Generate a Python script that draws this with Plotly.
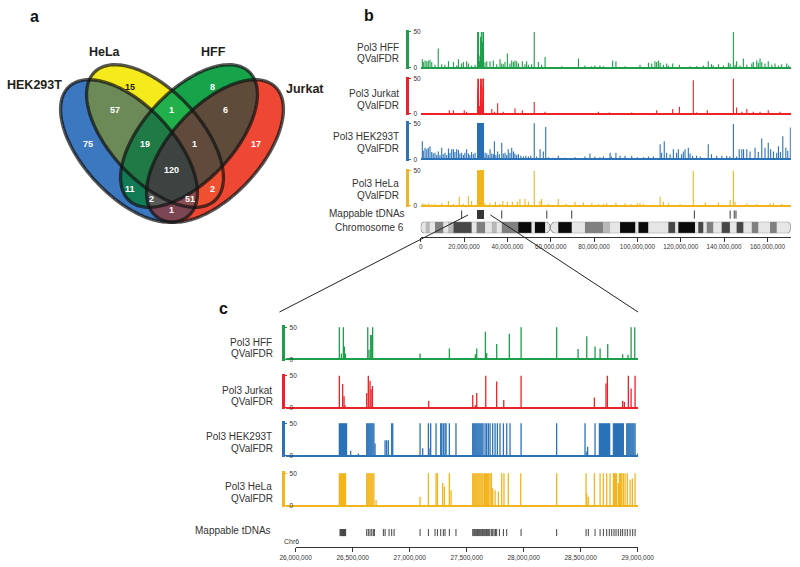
import numpy as np
import plotly.graph_objects as go

W, H = 800, 567
FONT = "Liberation Sans, Arial, sans-serif"

# ----------------------------- DATA -----------------------------
# Venn diagram (bit mask: 1=HEK293T, 2=HeLa, 4=HFF, 8=Jurkat)
venn_sets = ["HEK293T", "HeLa", "HFF", "Jurkat"]
venn_masks = [2, 4, 3, 6, 12, 1, 7, 14, 8, 15, 5, 10, 13, 11, 9]
venn_counts = [15, 8, 57, 1, 6, 75, 19, 1, 17, 120, 11, 2, 2, 51, 1]

# Chromosome 6 ideogram (Mb)
chr6_length_mb = 170.8
centromere_mb = 59.8
band_start_mb = [2.3, 6.6, 12.7, 15.1, 25.8, 32.8, 37.4, 45.0, 52.7, 63.5, 75.8, 84.3,
                 92.0, 100.5, 114.3, 118.9, 128.1, 132.0, 138.9, 145.8, 152.8, 161.2]
band_end_mb = [4.2, 10.4, 15.1, 23.5, 29.7, 35.1, 45.0, 51.1, 57.4, 69.7, 84.3, 87.4,
               99.0, 105.0, 117.4, 126.6, 130.4, 135.0, 142.7, 148.9, 155.8, 164.3]
band_stain = ["gpos25", "gpos50", "gpos25", "gpos75", "gpos50", "gpos25", "gpos50", "gpos100",
              "gpos100", "gpos100", "gpos50", "gpos25", "gpos100", "gpos100", "gpos75", "gpos100",
              "gpos75", "gpos50", "gpos75", "gpos75", "gpos50", "gpos50"]

# Panel b: whole chromosome signal outside the zoomed window (Mb, QValFDR capped at 50)
hff_b_pos = [0.75, 1.2, 2.0, 2.8, 3.5, 4.3, 5.1, 6.6, 8.1, 9.7,
             11.2, 12.8, 15.1, 16.6, 17.4, 18.9, 19.7, 21.2, 22.0, 23.5,
             25.1, 29.7, 30.5, 32.0, 33.5, 35.1, 36.6, 37.4, 38.1, 38.9,
             40.0, 41.2, 42.0, 42.8, 43.5, 44.3, 45.1, 46.9, 48.1, 48.9,
             49.7, 51.2, 52.4, 54.3, 55.8, 57.4, 65.1, 72.8, 75.8, 78.9,
             80.4, 82.7, 84.3, 88.6, 90.1, 94.3, 101.2, 105.1, 106.6, 108.1,
             108.9, 109.7, 110.5, 112.0, 113.5, 114.3, 116.3, 119.4, 124.3, 127.3,
             130.4, 132.7, 134.2, 135.0, 137.4, 139.7, 142.0, 142.8, 144.3, 145.1,
             145.8, 147.4, 148.9, 150.5, 152.8, 153.5, 155.1, 155.8, 156.6, 157.4,
             158.9, 160.4, 162.0, 163.5, 165.1, 166.6, 168.9, 169.8]
hff_b_val = [12, 8, 10, 9, 10, 11, 8, 4, 27, 5,
             4, 9, 8, 3, 12, 6, 8, 9, 6, 3,
             4, 8, 9, 9, 10, 5, 12, 6, 5, 8,
             20, 6, 10, 8, 10, 9, 6, 9, 5, 9,
             4, 5, 50, 8, 4, 15, 2, 13, 3, 2,
             3, 3, 2, 10, 9, 2, 4, 7, 6, 9,
             8, 10, 7, 4, 6, 3, 6, 4, 2, 2,
             3, 9, 5, 3, 5, 3, 7, 6, 50, 4,
             9, 3, 13, 4, 6, 8, 10, 7, 13, 8,
             6, 9, 4, 6, 3, 5, 6, 3]

jurkat_b_pos = [13.2, 15.1, 20.1, 21.2, 32.8, 34.0, 35.5, 38.1, 43.5, 46.9,
                52.4, 57.4, 82.0, 87.1, 97.4, 108.9, 116.3, 119.4, 125.8, 127.3,
                132.3, 144.3, 145.8, 148.2, 150.5, 153.5, 156.6, 160.4, 165.8]
jurkat_b_val = [5, 5, 5, 3, 7, 3, 15, 3, 8, 5,
                17, 3, 3, 2, 2, 5, 7, 10, 48, 2,
                5, 50, 9, 3, 7, 3, 3, 5, 3]

hek_b_pos = [0.75, 1.2, 2.0, 2.8, 3.5, 4.3, 5.1, 5.8, 6.6, 7.4,
             8.1, 8.9, 9.7, 10.4, 11.2, 12.0, 12.8, 13.5, 14.3, 15.1,
             15.8, 16.6, 17.4, 18.1, 18.9, 19.7, 20.4, 21.2, 22.0, 22.7,
             23.5, 24.3, 25.1, 29.7, 30.5, 31.2, 32.0, 32.8, 33.5, 34.0,
             34.7, 35.5, 36.3, 37.4, 38.1, 38.9, 39.7, 40.4, 41.2, 42.0,
             42.8, 43.5, 44.3, 45.1, 46.2, 47.4, 48.5, 49.7, 50.8, 52.4,
             53.5, 55.1, 56.6, 57.7, 58.9, 61.0, 63.5, 66.6, 71.2, 75.8,
             78.1, 80.4, 82.7, 84.3, 87.4, 88.0, 90.1, 92.0, 94.3, 97.4,
             100.0, 102.8, 105.1, 107.4, 110.5, 111.2, 112.4, 113.5, 115.1, 116.6,
             118.1, 118.9, 120.4, 121.2, 122.0, 123.5, 124.3, 125.5, 127.3, 129.0,
             132.7, 134.2, 136.6, 139.0, 141.2, 142.7, 144.3, 145.8, 147.0, 148.2,
             149.0, 150.5, 152.0, 154.3, 155.8, 157.4, 158.9, 160.4, 161.5, 162.8,
             164.3, 165.1, 166.0, 167.1, 168.5, 169.4, 170.6]
hek_b_val = [25, 12, 16, 14, 16, 18, 10, 8, 9, 6,
             11, 6, 16, 7, 9, 6, 15, 9, 14, 14,
             10, 14, 13, 8, 9, 6, 9, 14, 8, 6,
             10, 7, 9, 9, 8, 6, 14, 8, 7, 25,
             6, 11, 7, 23, 8, 9, 6, 14, 9, 16,
             11, 8, 6, 7, 5, 4, 5, 4, 5, 50,
             4, 14, 11, 45, 3, 2, 5, 2, 3, 4,
             8, 4, 3, 4, 9, 4, 9, 5, 5, 5,
             3, 3, 4, 4, 21, 9, 25, 9, 7, 14,
             9, 14, 7, 11, 14, 16, 8, 5, 5, 4,
             21, 7, 5, 5, 5, 4, 49, 4, 14, 14,
             14, 14, 11, 16, 10, 29, 16, 23, 14, 11,
             9, 18, 10, 32, 16, 12, 44]

hela_b_pos = [1.0, 2.0, 3.5, 5.1, 6.6, 9.7, 12.8, 15.1, 17.8, 19.7,
              22.0, 23.5, 29.7, 32.0, 34.5, 36.6, 37.9, 40.0, 42.3, 44.6,
              45.8, 48.1, 49.7, 52.4, 55.1, 55.8, 58.9, 63.5, 67.0, 71.2,
              75.1, 79.0, 82.0, 84.3, 85.8, 90.1, 94.3, 97.0, 100.0, 101.2,
              102.8, 110.5, 112.0, 114.3, 119.7, 125.8, 131.3, 137.4, 142.8, 144.3,
              145.1, 150.5, 155.1, 161.2, 162.8, 166.6]
hela_b_val = [4, 3, 4, 2, 3, 4, 7, 3, 13, 3,
              14, 7, 4, 4, 6, 3, 7, 6, 6, 6,
              10, 10, 6, 50, 7, 10, 3, 10, 3, 6,
              5, 4, 3, 3, 4, 5, 4, 3, 4, 4,
              3, 13, 6, 4, 3, 50, 5, 5, 9, 50,
              6, 4, 3, 4, 4, 3]

tdna_b_pos = [18.9, 37.4, 58.2, 69.7, 126.3, 142.8, 144.7, 145.5]

# Panel c: zoom 26-29 Mb (Mb, QValFDR capped at 50)
hff_c_pos = [26.383, 26.401, 26.418, 26.427, 26.436, 26.632, 26.643, 26.658, 26.667, 26.675,
             27.091, 27.348, 27.576, 27.588, 27.664, 27.675, 27.763, 27.874, 27.977, 28.289,
             28.333, 28.477, 28.553, 28.626, 28.670, 28.737, 28.868, 28.915, 28.942, 28.974]
hff_c_val = [50, 9, 50, 20, 9, 50, 15, 38, 38, 50,
             9, 17, 8, 17, 43, 10, 24, 40, 50, 50,
             2, 16, 36, 20, 17, 24, 8, 7, 50, 50]

jurkat_c_pos = [26.383, 26.412, 26.424, 26.433, 26.623, 26.637, 26.652, 26.661, 26.673, 27.167,
                27.553, 27.576, 27.588, 27.667, 27.763, 27.825, 27.977, 28.620, 28.722, 28.734,
                28.868, 28.883, 28.918, 28.942, 28.977]
jurkat_c_val = [50, 37, 18, 4, 23, 50, 42, 29, 34, 11,
                20, 4, 23, 50, 41, 12, 50, 16, 38, 50,
                11, 9, 50, 30, 50]

hek_c_pos = [26.383, 26.392, 26.401, 26.410, 26.419, 26.428, 26.437, 26.446, 26.482, 26.550,
             26.623, 26.632, 26.641, 26.650, 26.659, 26.668, 26.677, 26.686, 26.696, 26.784,
             26.798, 26.813, 26.842, 26.851, 27.091, 27.114, 27.164, 27.178, 27.184, 27.231,
             27.272, 27.281, 27.295, 27.310, 27.319, 27.348, 27.406, 27.553, 27.562, 27.571,
             27.580, 27.589, 27.598, 27.607, 27.616, 27.625, 27.634, 27.643, 27.661, 27.675,
             27.690, 27.705, 27.728, 27.749, 27.769, 27.792, 27.822, 27.851, 27.880, 27.977,
             28.289, 28.538, 28.553, 28.561, 28.626, 28.664, 28.673, 28.682, 28.691, 28.700,
             28.709, 28.718, 28.727, 28.736, 28.745, 28.754, 28.787, 28.796, 28.805, 28.814,
             28.823, 28.832, 28.841, 28.850, 28.859, 28.868, 28.874, 28.904, 28.913, 28.922,
             28.931, 28.940, 28.949, 28.958, 28.967, 28.977, 29.000]
hek_c_val = [50, 50, 50, 50, 50, 50, 50, 50, 8, 4,
             50, 50, 50, 50, 50, 50, 50, 50, 19, 24,
             24, 24, 50, 50, 50, 12, 50, 12, 50, 50,
             50, 50, 50, 50, 50, 50, 50, 50, 50, 50,
             50, 50, 50, 50, 50, 50, 50, 50, 50, 50,
             50, 50, 50, 50, 50, 50, 50, 50, 50, 50,
             50, 50, 7, 14, 50, 50, 50, 50, 50, 50,
             50, 50, 50, 50, 50, 50, 50, 50, 50, 50,
             50, 50, 50, 50, 50, 50, 50, 50, 50, 50,
             50, 50, 50, 50, 50, 50, 4]

hela_c_pos = [26.383, 26.392, 26.401, 26.410, 26.419, 26.428, 26.437,
              26.623, 26.632, 26.641, 26.650, 26.659, 26.668, 26.677, 26.686, 26.705,
              27.091, 27.164, 27.231, 27.243, 27.289, 27.304, 27.348, 27.363,
              27.553, 27.562, 27.571, 27.580, 27.589, 27.598, 27.607, 27.616, 27.625, 27.634, 27.643,
              27.655, 27.664, 27.675, 27.684, 27.693, 27.705, 27.716, 27.728, 27.749, 27.778,
              27.807, 27.827, 27.865, 27.974, 28.289,
              28.547, 28.553, 28.567, 28.620, 28.670, 28.699, 28.728, 28.757,
              28.787, 28.796, 28.805, 28.814, 28.830, 28.840, 28.850, 28.860, 28.874, 28.889,
              28.909, 28.933, 28.953, 28.977]
hela_c_val = [50, 50, 50, 50, 50, 50, 50,
              50, 50, 50, 50, 50, 50, 50, 50, 9,
              14, 50, 50, 50, 35, 30, 50, 24,
              50, 50, 50, 50, 50, 50, 50, 50, 50, 50, 50,
              50, 50, 50, 50, 50, 50, 50, 27, 24, 22,
              50, 50, 50, 50, 50,
              50, 19, 14, 50, 50, 50, 50, 50,
              50, 50, 50, 50, 35, 50, 50, 50, 50, 50,
              50, 40, 42, 50]

tdna_c_pos = [26.389, 26.394, 26.399, 26.404, 26.409, 26.414, 26.419, 26.424, 26.429, 26.433, 26.438,
              26.623, 26.637, 26.652, 26.667, 26.681, 26.690, 26.769, 26.784, 26.819, 26.842, 26.863,
              27.091, 27.164, 27.222, 27.243, 27.272, 27.295, 27.310, 27.348, 27.406,
              27.553, 27.562, 27.570, 27.579, 27.588, 27.596, 27.605, 27.614, 27.623, 27.632,
              27.640, 27.649, 27.658, 27.667, 27.675, 27.684, 27.693, 27.702, 27.716, 27.728,
              27.740, 27.752, 27.763, 27.787, 27.822, 27.851, 27.977, 28.289,
              28.547, 28.567, 28.626, 28.670, 28.699, 28.728, 28.751, 28.772, 28.792, 28.810,
              28.830, 28.851, 28.868, 28.889, 28.909, 28.933, 28.956, 28.977]

b_tick_vals = [0, 20000000, 40000000, 60000000, 80000000, 100000000, 120000000, 140000000, 160000000]
c_tick_vals = [26000000, 26500000, 27000000, 27500000, 28000000, 28500000, 29000000]

# ----------------------------- STYLE -----------------------------
GREEN, RED, BLUE, YELLOW = "#1E9E4A", "#EC2227", "#2B72B8", "#F2B51E"
stain_color = {"gpos25": "#b8b8b8", "gpos50": "#808080", "gpos75": "#474747", "gpos100": "#0a0a0a"}

# Venn ellipses in pixel space: (cx, cy, a, b, angle deg)
ellipses = [(129, 151, 88, 45, 47), (155, 136, 88, 45, 47),
            (189, 136, 88, 45, -47), (215, 151, 88, 45, -47)]
region_rgb = {1: (59, 120, 192), 2: (245, 234, 28), 4: (22, 163, 74), 8: (238, 72, 52),
              3: (108, 138, 87), 6: (34, 176, 74), 12: (95, 75, 58), 7: (31, 122, 69),
              14: (95, 74, 59), 15: (61, 67, 64), 5: (18, 122, 85), 10: (239, 80, 48),
              13: (90, 90, 90), 11: (142, 77, 79), 9: (125, 70, 84)}
venn_label_xy = {2: (130, 87), 4: (212, 87), 3: (115, 110), 6: (171, 110), 12: (226, 110),
                 1: (88, 144.5), 7: (145, 144.5), 14: (194.5, 144.5), 8: (256, 144.5),
                 15: (171, 170), 5: (130, 189), 10: (212, 189), 13: (151, 199),
                 11: (190, 199), 9: (171, 210)}
venn_set_xy = [(34, 85), (105, 52), (213, 52), (305, 89)]


def px(x):
    return x / W


def py(y):
    return 1 - y / H


fig = go.Figure()
annotations = []
shapes = []


def ann(text, x, y, size=10.0, xanchor="center", color="#333333", bold=False):
    annotations.append(dict(text=("<b>%s</b>" % text) if bold else text, x=px(x), y=py(y),
                            xref="paper", yref="paper", xanchor=xanchor, yanchor="middle",
                            showarrow=False, font=dict(size=size, color=color, family=FONT)))


def two_line_label(name, xr, y_mid):
    ann(name, xr - 1.0, y_mid - 5.6, xanchor="right")
    ann("QValFDR", xr, y_mid + 5.6, xanchor="right")


# ----------------------------- VENN -----------------------------
X0, Y0, IW, IH = 40, 55, 265, 185
gx = X0 + 0.5 + np.arange(IW)
gy = Y0 + 0.5 + np.arange(IH)
XX, YY = np.meshgrid(gx, gy)
mask = np.zeros(XX.shape, dtype=int)
for bit, (cx, cy, a, b, th) in zip([1, 2, 4, 8], ellipses):
    t = np.radians(th)
    dx, dy = XX - cx, YY - cy
    u = dx * np.cos(t) + dy * np.sin(t)
    v = -dx * np.sin(t) + dy * np.cos(t)
    mask |= np.where((u / a) ** 2 + (v / b) ** 2 <= 1, bit, 0)
img = np.zeros((IH, IW, 4))
img[..., :3] = 255
for m, rgb in region_rgb.items():
    sel = mask == m
    img[sel, 0], img[sel, 1], img[sel, 2] = rgb
    img[sel, 3] = 1
fig.add_trace(go.Image(z=img.tolist(), colormodel="rgba", x0=X0 + 0.5, y0=Y0 + 0.5, dx=1, dy=1,
                       xaxis="x", yaxis="y", hoverinfo="skip"))


def ellipse_path(cx, cy, a, b, th, n=140):
    t = np.radians(th)
    pts = []
    for k in range(n):
        s = 2 * np.pi * k / n
        u, v = a * np.cos(s), b * np.sin(s)
        pts.append("%.2f,%.2f" % (cx + u * np.cos(t) - v * np.sin(t), cy + u * np.sin(t) + v * np.cos(t)))
    return "M" + " L".join(pts) + " Z"


for e in ellipses:
    shapes.append(dict(type="path", path=ellipse_path(*e), xref="x", yref="y",
                       line=dict(color="rgba(20,20,20,0.72)", width=3.3), fillcolor="rgba(0,0,0,0)"))

for m, c in zip(venn_masks, venn_counts):
    x, y = venn_label_xy[m]
    ann(str(c), x, y, size=9, color="#222222" if m == 2 else "white", bold=True)
for name, (x, y) in zip(venn_sets, venn_set_xy):
    ann(name, x, y, size=12.5, color="#231f20", bold=True)


# ----------------------------- TRACKS -----------------------------
def spikes(pos_mb, vals):
    xs, ys = [], []
    for p, v in zip(pos_mb, vals):
        xs += [p * 1e6, p * 1e6, None]
        ys += [0, min(v, 50), None]
    return xs, ys


def track_yaxis(y0, y50, color, barx):
    k = (y0 - y50) / 50.0
    return dict(domain=[py(y0 + 2 * k), py(y50 - 3 * k)], range=[-2, 53], anchor="free",
                position=px(barx), side="right", showline=True, linecolor=color, linewidth=3,
                ticks="outside", ticklen=2, tickwidth=1, tickcolor=color, tickvals=[0, 50],
                ticktext=["0", "50"], tickfont=dict(size=6.5, color="#333333", family=FONT),
                ticklabelstandoff=1, showgrid=False, zeroline=True, zerolinecolor=color,
                zerolinewidth=2, fixedrange=True, automargin=False)


layout_axes = {}
layout_axes["xaxis"] = dict(domain=[0, 1], range=[0, W], visible=False, fixedrange=True, automargin=False)
layout_axes["yaxis"] = dict(domain=[0, 1], range=[H, 0], visible=False, fixedrange=True, automargin=False,
                            scaleanchor=False)

# panel b
b_tracks = [
    ("Pol3 HFF", GREEN, hff_b_pos + hff_c_pos, hff_b_val + hff_c_val, 67.7, 32.0, 52.7),
    ("Pol3 Jurkat", RED, jurkat_b_pos + jurkat_c_pos, jurkat_b_val + jurkat_c_val, 113.8, 78.8, 99.5),
    ("Pol3 HEK293T", BLUE, hek_b_pos + hek_c_pos, hek_b_val + hek_c_val, 159.3, 123.3, 142.5),
    ("Pol3 HeLa", YELLOW, hela_b_pos + hela_c_pos, hela_b_val + hela_c_val, 206.0, 170.8, 189.5),
]
B_L, B_R = 420.7, 790.8
layout_axes["xaxis2"] = dict(domain=[px(B_L), px(B_R)], range=[0, chr6_length_mb * 1e6], anchor="y2",
                             visible=False, fixedrange=True, automargin=False)
for i, (name, col, pos, val, y0, y50, ymid) in enumerate(b_tracks):
    yn = 2 + i
    layout_axes["yaxis%d" % yn] = track_yaxis(y0, y50, col, 407.2)
    xs, ys = spikes(pos, val)
    fig.add_trace(go.Scatter(x=xs, y=ys, mode="lines", line=dict(color=col, width=1.1),
                             xaxis="x2", yaxis="y%d" % yn, hoverinfo="skip"))
    two_line_label(name, 401.5, ymid)

# ideogram (y6)
layout_axes["yaxis6"] = dict(domain=[py(233.3), py(221.7)], range=[0, 1], anchor="x2", visible=False,
                             fixedrange=True, automargin=False)
fig.add_trace(go.Bar(orientation="h", y=[0.5] * len(band_start_mb),
                     base=[s * 1e6 for s in band_start_mb],
                     x=[(e - s) * 1e6 for s, e in zip(band_start_mb, band_end_mb)],
                     width=1, marker=dict(color=[stain_color[s] for s in band_stain], line=dict(width=0)),
                     xaxis="x2", yaxis="y6", hoverinfo="skip"))


def rounded_arm(x0, x1, rx0, rx1, ry=0.5, kap=0.5523):
    return ("M %f,0 L %f,0 C %f,0 %f,%f %f,%f L %f,%f C %f,%f %f,1 %f,1 L %f,1 "
            "C %f,1 %f,%f %f,%f L %f,%f C %f,%f %f,0 %f,0 Z") % (
        x0 + rx0, x1 - rx1,
        x1 - rx1 + kap * rx1, x1, ry - kap * ry, x1, ry,
        x1, 1 - ry,
        x1, 1 - ry + kap * ry, x1 - rx1 + kap * rx1, x1 - rx1,
        x0 + rx0,
        x0 + rx0 - kap * rx0, x0, 1 - ry + kap * ry, x0, 1 - ry,
        x0, ry,
        x0, ry - kap * ry, x0 + rx0 - kap * rx0, x0 + rx0)


mb_per_px = chr6_length_mb / (B_R - B_L)
arms = [(0, centromere_mb * 1e6, 3.5 * mb_per_px * 1e6, 5.5 * mb_per_px * 1e6),
        (centromere_mb * 1e6, chr6_length_mb * 1e6, 5.5 * mb_per_px * 1e6, 3.5 * mb_per_px * 1e6)]
for a0, a1, r0, r1 in arms:
    path = rounded_arm(a0, a1, r0, r1)
    shapes.append(dict(type="path", path=path, xref="x2", yref="y6", layer="below",
                       fillcolor="#e6e6e6", line=dict(width=0)))
    shapes.append(dict(type="path", path=path, xref="x2", yref="y6", layer="above",
                       fillcolor="rgba(0,0,0,0)", line=dict(color="#8a8a8a", width=1)))

# tDNA row b + bottom axis (x3, y7)
layout_axes["xaxis3"] = dict(domain=[px(B_L), px(B_R)], range=[0, chr6_length_mb * 1e6], anchor="free",
                             position=py(236.5), showline=True, linecolor="#333333", linewidth=1,
                             ticks="outside", ticklen=4, tickcolor="#333333", tickvals=b_tick_vals,
                             tickformat=",d", tickfont=dict(size=6.3, color="#333333", family=FONT),
                             showgrid=False, zeroline=False, fixedrange=True, automargin=False)
layout_axes["yaxis7"] = dict(domain=[py(218.8), py(210.3)], range=[0, 1], anchor="x3", visible=False,
                             fixedrange=True, automargin=False)
tx, ty = [], []
for p in tdna_b_pos + tdna_c_pos:
    tx += [p * 1e6, p * 1e6, None]
    ty += [0, 1, None]
fig.add_trace(go.Scatter(x=tx, y=ty, mode="lines", line=dict(color="#3a3a3a", width=1),
                         xaxis="x3", yaxis="y7", hoverinfo="skip"))
ann("Mappable tDNAs", 406.5, 213.5, xanchor="right")
ann("Chromosome 6", 405.5, 227.5, xanchor="right")

# panel c
C_L, C_R = 286.0, 638.3
c_scale = (637.7 - 295.7) / 3.0  # px per Mb
layout_axes["xaxis4"] = dict(domain=[px(C_L), px(C_R)],
                             range=[(26 - (295.7 - C_L) / c_scale) * 1e6, (29 + (C_R - 637.7) / c_scale) * 1e6],
                             anchor="y8", visible=False, fixedrange=True, automargin=False)
c_tracks = [
    ("Pol3 HFF", GREEN, hff_c_pos, hff_c_val, 359.3, 327.3, 348.0),
    ("Pol3 Jurkat", RED, jurkat_c_pos, jurkat_c_val, 407.7, 375.7, 395.6),
    ("Pol3 HEK293T", BLUE, hek_c_pos, hek_c_val, 456.0, 423.3, 442.5),
    ("Pol3 HeLa", YELLOW, hela_c_pos, hela_c_val, 506.0, 473.3, 492.5),
]
for i, (name, col, pos, val, y0, y50, ymid) in enumerate(c_tracks):
    yn = 8 + i
    layout_axes["yaxis%d" % yn] = track_yaxis(y0, y50, col, 283.3)
    xs, ys = spikes(pos, val)
    fig.add_trace(go.Scatter(x=xs, y=ys, mode="lines", line=dict(color=col, width=1.3),
                             xaxis="x4", yaxis="y%d" % yn, hoverinfo="skip"))
    two_line_label(name, 275.0, ymid)

layout_axes["xaxis5"] = dict(domain=[px(295.7), px(637.7)], range=[26e6, 29e6], anchor="free",
                             position=py(546.7), showline=True, linecolor="#333333", linewidth=1,
                             ticks="outside", ticklen=4, tickcolor="#333333", tickvals=c_tick_vals,
                             tickformat=",d", tickfont=dict(size=6.5, color="#333333", family=FONT),
                             showgrid=False, zeroline=False, fixedrange=True, automargin=False)
layout_axes["yaxis12"] = dict(domain=[py(536.3), py(529.0)], range=[0, 1], anchor="x5", visible=False,
                              fixedrange=True, automargin=False)
tx, ty = [], []
for p in tdna_c_pos:
    tx += [p * 1e6, p * 1e6, None]
    ty += [0, 1, None]
fig.add_trace(go.Scatter(x=tx, y=ty, mode="lines", line=dict(color="#444444", width=1),
                         xaxis="x5", yaxis="y12", hoverinfo="skip"))
ann("Mappable tDNAs", 272.8, 530.0, xanchor="right")
ann("Chr6", 282.0, 541.5, size=7, xanchor="left")

# zoom connector lines
shapes.append(dict(type="line", xref="x", yref="y", x0=468, y0=215, x1=279.5, y1=312,
                   line=dict(color="#222222", width=1)))
shapes.append(dict(type="line", xref="x", yref="y", x0=490.5, y0=215, x1=638, y1=312,
                   line=dict(color="#222222", width=1)))

# panel letters
ann("a", 34, 16, size=16, color="#111111", bold=True)
ann("b", 368.5, 15.5, size=16, color="#111111", bold=True)
ann("c", 223, 308, size=16, color="#111111", bold=True)

fig.update_layout(template="none", width=W, height=H, autosize=False,
                  margin=dict(l=0, r=0, t=0, b=0, pad=0),
                  paper_bgcolor="white", plot_bgcolor="rgba(0,0,0,0)", showlegend=False,
                  barmode="overlay", annotations=annotations, shapes=shapes,
                  font=dict(family=FONT), **layout_axes)
fig.write_html("out.html", config={"responsive": False, "displayModeBar": False},
               post_script="document.body.style.margin='0px';document.body.style.overflow='hidden';")
